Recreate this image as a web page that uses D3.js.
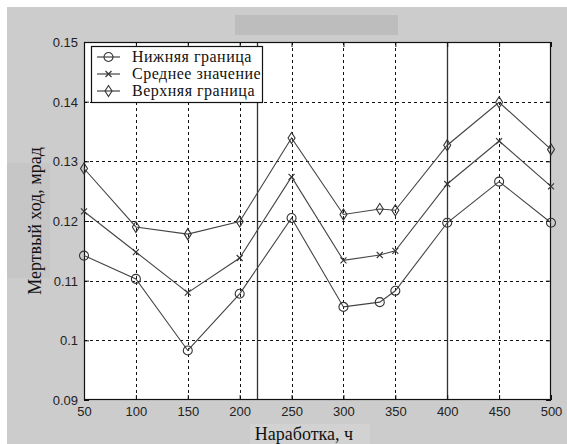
<!DOCTYPE html>
<html>
  <head>
    <meta charset="UTF-8" />
    <style>
      body { margin: 0; background: #fff; }
      svg { display: block; }
      .tick text { font-family: "Liberation Sans", Arial, sans-serif; font-size: 13px; fill: #222; }
      .lbl { font-family: "Liberation Serif", "Times New Roman", serif; font-size: 18px; fill: #111; }
      .leg { font-family: "Liberation Serif", "Times New Roman", serif; font-size: 16px; letter-spacing: 0.5px; fill: #111; }
    </style>
  </head>
  <body>
    <svg></svg>
    <script src="https://d3js.org/d3.v7.min.js"></script>
    <script>
      // data
      var hours = [50, 100, 150, 200, 250, 300, 335, 350, 400, 450, 500];
      var lower = [0.1142, 0.1103, 0.0983, 0.1078, 0.1205, 0.1056, 0.1064, 0.1083, 0.1197, 0.1266, 0.1197];
      var middle = [0.1216, 0.1148, 0.108, 0.1138, 0.1274, 0.1134, 0.1143, 0.115, 0.1262, 0.1334, 0.1258];
      var upper = [0.1288, 0.119, 0.1178, 0.1199, 0.1339, 0.1211, 0.122, 0.1218, 0.1327, 0.1399, 0.132];
      var xTicks = [50, 100, 150, 200, 250, 300, 350, 400, 450, 500];
      var yTicks = [0.09, 0.1, 0.11, 0.12, 0.13, 0.14, 0.15];
      var legendNames = ["Нижняя граница", "Среднее значение", "Верхняя граница"];
      var solidLinesAt = [216.7, 400]; // solid vertical lines seen on the plot

      let width = 567,
        height = 444;
      let pLeft = 84, pRight = 551, pTop = 42, pBottom = 400;

      let svg = d3.select("svg").attr("width", width).attr("height", height);

      // figure background
      svg.append("rect").attr("x", 7).attr("y", 7).attr("width", width - 7).attr("height", height - 7).attr("fill", "#cccccc");
      svg.append("rect").attr("x", 235).attr("y", 15).attr("width", 163).attr("height", 20).attr("fill", "#bdbdbd");
      svg.append("rect").attr("x", 7).attr("y", 163).attr("width", 43).attr("height", 115).attr("fill", "#c6c6c6");
      svg.append("rect").attr("x", 250).attr("y", 424).attr("width", 120).attr("height", 20).attr("fill", "#d2d2d2");

      var x = d3.scaleLinear().domain([50, 500]).range([pLeft, pRight]);
      var y = d3.scaleLinear().domain([0.09, 0.15]).range([pBottom, pTop]);

      svg.append("rect").attr("x", pLeft).attr("y", pTop).attr("width", pRight - pLeft).attr("height", pBottom - pTop).attr("fill", "#fff");

      // grid
      let grid = svg.append("g").attr("stroke", "#111").attr("stroke-width", 1).attr("stroke-dasharray", "3,3");
      grid.selectAll(".gx").data(xTicks.slice(1, -1)).enter().append("line")
        .attr("x1", d => Math.round(x(d)) + 0.5).attr("x2", d => Math.round(x(d)) + 0.5)
        .attr("y1", pTop).attr("y2", pBottom);
      grid.selectAll(".gy").data(yTicks.slice(1, -1)).enter().append("line")
        .attr("y1", d => Math.round(y(d)) + 0.5).attr("y2", d => Math.round(y(d)) + 0.5)
        .attr("x1", pLeft).attr("x2", pRight);

      svg.selectAll(".solid").data(solidLinesAt).enter().append("line")
        .attr("x1", d => Math.round(x(d)) + 0.5).attr("x2", d => Math.round(x(d)) + 0.5)
        .attr("y1", pTop).attr("y2", pBottom)
        .attr("stroke", "#333").attr("stroke-width", 1.3);

      // axes
      let xAxis = svg.append("g").attr("transform", "translate(0," + pBottom + ")")
        .call(d3.axisBottom(x).tickValues(xTicks).tickSize(-5).tickPadding(7).tickFormat(d3.format("d")));
      let yAxis = svg.append("g").attr("transform", "translate(" + pLeft + ",0)")
        .call(d3.axisLeft(y).tickValues(yTicks).tickSize(-5).tickPadding(6).tickFormat(d => String(+d.toFixed(2))));
      svg.append("g").attr("transform", "translate(0," + pTop + ")")
        .call(d3.axisTop(x).tickValues(xTicks).tickSize(-5).tickFormat(""));
      svg.append("g").attr("transform", "translate(" + pRight + ",0)")
        .call(d3.axisRight(y).tickValues(yTicks).tickSize(-5).tickFormat(""));
      svg.selectAll(".domain").remove();
      svg.selectAll(".tick line").attr("stroke", "#111");
      yAxis.selectAll(".tick text").attr("dy", "0.35em");
      xAxis.selectAll(".tick text").attr("dy", "0.71em");

      svg.append("rect").attr("x", pLeft + 0.5).attr("y", pTop + 0.5).attr("width", pRight - pLeft - 1).attr("height", pBottom - pTop - 1)
        .attr("fill", "none").attr("stroke", "#111").attr("stroke-width", 1.2);

      // markers
      function circleMark(g) {
        g.append("circle").attr("r", 4.5).attr("fill", "none").attr("stroke", "#333").attr("stroke-width", 1.1);
      }
      function crossMark(g) {
        g.append("path").attr("d", "M-3,-3L3,3M-3,3L3,-3").attr("stroke", "#333").attr("stroke-width", 1.1);
      }
      function diamondMark(g) {
        g.append("path").attr("d", "M0,-5.5L3.5,0L0,5.5L-3.5,0Z").attr("fill", "none").attr("stroke", "#333").attr("stroke-width", 1.1);
      }

      var series = [
        { name: legendNames[0], values: lower, mark: circleMark },
        { name: legendNames[1], values: middle, mark: crossMark },
        { name: legendNames[2], values: upper, mark: diamondMark },
      ];

      let line = d3.line().x(d => x(d[0])).y(d => y(d[1]));

      series.forEach(function (s) {
        let pts = hours.map((h, i) => [h, s.values[i]]);
        svg.append("path").datum(pts).attr("d", line)
          .attr("fill", "none").attr("stroke", "#444").attr("stroke-width", 1.1);
        svg.append("g").selectAll("g").data(pts).enter().append("g")
          .attr("transform", d => "translate(" + x(d[0]) + "," + y(d[1]) + ")")
          .each(function () { s.mark(d3.select(this)); });
      });

      // legend
      let legend = svg.append("g").attr("transform", "translate(91,46)");
      legend.append("rect").attr("x", 0.5).attr("y", 0.5).attr("width", 171).attr("height", 56)
        .attr("fill", "#fff").attr("stroke", "#111").attr("stroke-width", 1.2);
      series.forEach(function (s, i) {
        let ly = 11 + i * 17;
        legend.append("line").attr("x1", 6).attr("x2", 29).attr("y1", ly).attr("y2", ly)
          .attr("stroke", "#444").attr("stroke-width", 1.2);
        let m = legend.append("g").attr("transform", "translate(17.5," + ly + ")");
        s.mark(m);
        legend.append("text").attr("class", "leg").attr("x", 41).attr("y", ly).attr("dy", "0.33em").text(s.name);
      });

      // axis labels
      svg.append("text").attr("class", "lbl").attr("text-anchor", "middle")
        .attr("transform", "translate(41," + (pTop + pBottom) / 2 + ") rotate(-90)")
        .text("Мертвый ход, мрад");
      svg.append("text").attr("class", "lbl").attr("text-anchor", "middle")
        .attr("x", 304).attr("y", 440).text("Наработка, ч");
    </script>
  </body>
</html>
